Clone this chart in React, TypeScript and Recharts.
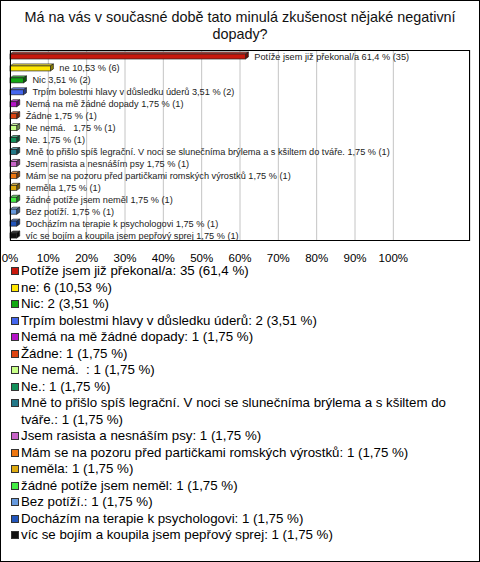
import { Bar, BarChart, CartesianGrid, Cell, LabelList, XAxis, YAxis } from 'recharts';

const categories = [
  'Potíže jsem již překonal/a',
  'ne',
  'Nic',
  'Trpím bolestmi hlavy v důsledku úderů',
  'Nemá na mě žádné dopady',
  'Žádne',
  'Ne nemá.  ',
  'Ne.',
  'Mně to přišlo spíš legrační. V noci se slunečníma brýlema a s kšiltem do tváře.',
  'Jsem rasista a nesnáším psy',
  'Mám se na pozoru před partičkami romských výrostků',
  'neměla',
  'žádné potíže jsem neměl',
  'Bez potíží.',
  'Docházím na terapie k psychologovi',
  'víc se bojím a koupila jsem pepřový sprej',
];

const counts = [35, 6, 2, 2, 1, 1, 1, 1, 1, 1, 1, 1, 1, 1, 1, 1];
const percents = [61.4, 10.53, 3.51, 3.51, 1.75, 1.75, 1.75, 1.75, 1.75, 1.75, 1.75, 1.75, 1.75, 1.75, 1.75, 1.75];

const colors = [
  '#c8170c', '#ffe600', '#12a812', '#4466ee', '#b514c8', '#dd4411', '#c8ff88', '#12905a',
  '#237888', '#c864c8', '#ee7711', '#ddaa11', '#44ee44', '#6699dd', '#2255bb', '#111111',
];

const xTicks = [0, 10, 20, 30, 40, 50, 60, 70, 80, 90, 100];

const FONT = '"Liberation Sans", Arial, sans-serif';

const fmt = (v: number) => String(v).replace('.', ',');

const rows = categories.map((name, i) => ({
  name,
  value: percents[i],
  label: `${name} ${fmt(percents[i])} % (${counts[i]})`,
}));

function shade(hex: string, f: number) {
  const n = parseInt(hex.slice(1), 16);
  const ch = [(n >> 16) & 255, (n >> 8) & 255, n & 255].map((c) =>
    Math.max(0, Math.min(255, Math.round(f >= 1 ? c + (255 - c) * (f - 1) : c * f)))
  );
  return `rgb(${ch[0]},${ch[1]},${ch[2]})`;
}

function Bar3D(props: any) {
  const { x, y, width, height, fill } = props;
  const d = 3;
  const h = height - 2;
  const top = y + 2;
  const w = Math.max(width, 0);
  return (
    <g stroke="#222" strokeWidth={0.7}>
      <polygon
        points={`${x},${top} ${x + d},${y} ${x + w + d},${y} ${x + w},${top}`}
        fill={shade(fill, 1.25)}
      />
      <polygon
        points={`${x + w},${top} ${x + w + d},${y} ${x + w + d},${y + h} ${x + w},${top + h}`}
        fill={shade(fill, 0.55)}
      />
      <rect x={x} y={top} width={w} height={h} fill={fill} />
    </g>
  );
}

function BarLabel(props: any) {
  const { x, y, width, height, value } = props;
  return (
    <text
      x={x + width + 9}
      y={y + height / 2 + 1}
      dominantBaseline="central"
      fontSize={9.2}
      fontFamily={FONT}
      fill="#222"
      style={{ whiteSpace: 'pre' }}
    >
      {value}
    </text>
  );
}

export default function App() {
  return (
    <div
      style={{
        position: 'fixed',
        top: 0,
        left: 0,
        width: 480,
        height: 562,
        background: '#fff',
        boxShadow: 'inset 0 0 0 1px #000',
        fontFamily: FONT,
        color: '#000',
      }}
    >
      <div
        style={{
          position: 'absolute',
          top: 9,
          left: 0,
          width: 480,
          textAlign: 'center',
          fontSize: 14.4,
          fontWeight: 400,
          lineHeight: '16.5px',
          whiteSpace: 'nowrap',
          color: '#111',
        }}
      >
        Má na vás v současné době tato minulá zkušenost nějaké negativní
        <br />
        dopady?
      </div>

      <div style={{ position: 'absolute', top: 0, left: 0 }}>
        <BarChart
          width={480}
          height={270}
          data={rows}
          layout="vertical"
          margin={{ top: 50, right: 10, bottom: 9, left: 10 }}
        >
          <CartesianGrid horizontal={false} stroke="#c4c4c4" />
          <XAxis
            type="number"
            domain={[0, 120]}
            ticks={xTicks}
            tickFormatter={(v: number) => `${v}%`}
            axisLine={false}
            tickLine={false}
            tickSize={6}
            tickMargin={7}
            height={20}
            interval={0}
            tick={{ fontSize: 11.5, fill: '#000', fontFamily: FONT }}
          />
          <YAxis type="category" dataKey="name" hide />
          <Bar dataKey="value" barSize={7} shape={<Bar3D />} isAnimationActive={false}>
            {rows.map((r, i) => (
              <Cell key={r.name} fill={colors[i]} />
            ))}
            <LabelList dataKey="label" content={<BarLabel />} />
          </Bar>
        </BarChart>
      </div>

      <div
        style={{
          position: 'absolute',
          left: 10,
          top: 50,
          width: 460,
          height: 191,
          boxSizing: 'border-box',
          border: '1.5px solid #000',
          pointerEvents: 'none',
        }}
      />

      <div style={{ position: 'absolute', top: 263, left: 11, width: 465 }}>
        {categories.map((name, i) => (
          <div
            key={name}
            style={{ display: 'flex', alignItems: 'flex-start', fontSize: 13.3, lineHeight: '16.5px' }}
          >
            <span
              style={{
                flex: '0 0 auto',
                width: 8,
                height: 8,
                marginTop: 4,
                marginRight: 2,
                boxSizing: 'border-box',
                border: '1px solid #333',
                background: colors[i],
              }}
            />
            <span style={{ whiteSpace: 'pre-wrap', width: 440 }}>
              {`${name}: ${counts[i]} (${fmt(percents[i])} %)`}
            </span>
          </div>
        ))}
      </div>
    </div>
  );
}
